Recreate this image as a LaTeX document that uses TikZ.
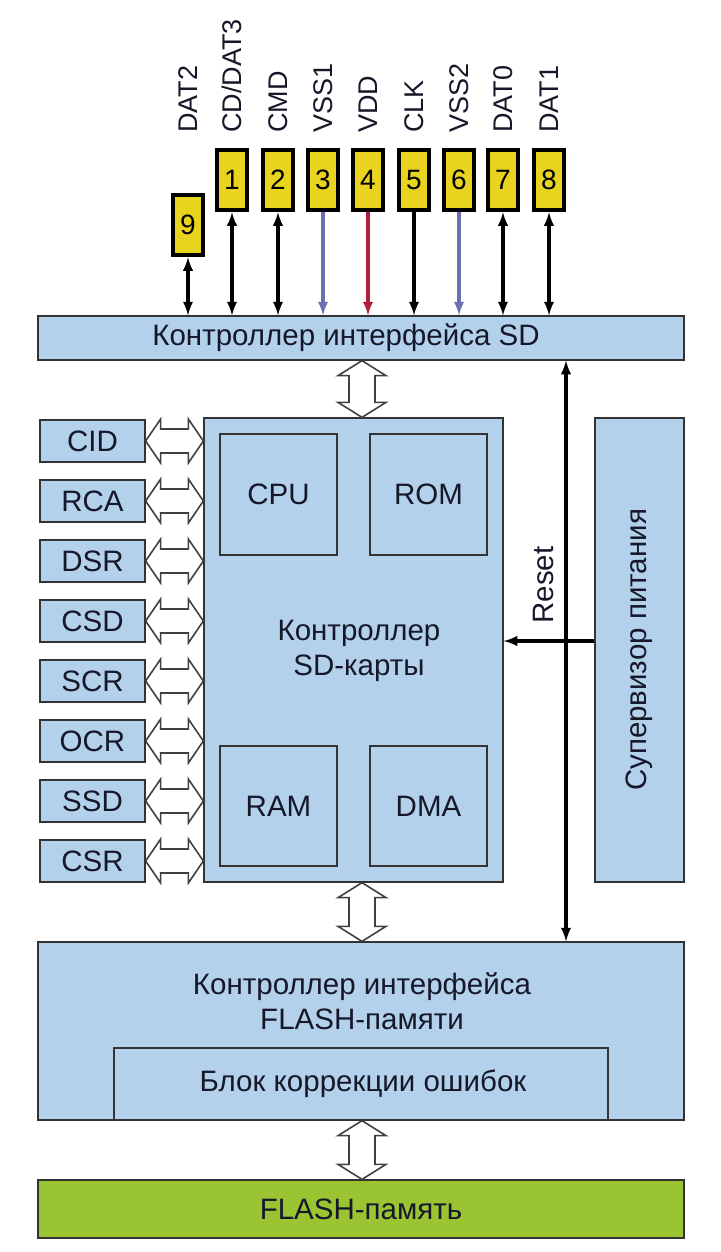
\documentclass[tikz,border=0pt]{standalone}
\usepackage{fontspec}
\setmainfont{Liberation Sans}
\usepackage{xcolor}
\usetikzlibrary{arrows, calc, positioning}
\definecolor{blkblue}{HTML}{B3D1EB}
\definecolor{flgreen}{HTML}{9AC431}
\definecolor{pinyel}{HTML}{E8D41E}
\definecolor{vssblue}{HTML}{6B70B2}
\definecolor{vddred}{HTML}{B01E3C}
\definecolor{inkdark}{HTML}{16182A}
\tikzset{
  % block style
  blk/.style={
    draw=black!80
    , fill=blkblue
    , line width=1.3pt
    , anchor=center
    , text centered
    , inner sep=0pt
  },
  % plain label text
  lbl/.style={
    font=\fontsize{29.5}{35}\selectfont
    , text=inkdark
    , align=center
    , inner sep=0pt
  },
  % pin name text
  pinlbl/.style={
    font=\fontsize{27}{27}\selectfont
    , text=inkdark
    , rotate=90
    , anchor=west
    , inner sep=0pt
  },
  % contact pad style
  pad/.style={
    draw
    , fill=pinyel
    , line width=4.5pt
    , minimum width=30pt
    , minimum height=60pt
    , inner sep=0pt
    , font=\fontsize{28}{28}\selectfont
  },
  % signal arrow style
  wire/.style={
    line width=3.6pt
    , >=latex
  },
  % hollow bus arrow
  bus/.style={
    draw=black!75
    , fill=white
    , line width=1.6pt
  },
}
% hollow two-way bus, vertical (top, bottom)
\newcommand{\busV}[2]{%
  \draw[bus] let \p1=(#1), \p2=(#2) in
    (\x1,\y1) -- (\x1+24pt,\y1-15pt) -- (\x1+13pt,\y1-15pt) -- (\x1+13pt,\y2+15pt)
    -- (\x1+24pt,\y2+15pt) -- (\x1,\y2) -- (\x1-24pt,\y2+15pt) -- (\x1-13pt,\y2+15pt)
    -- (\x1-13pt,\y1-15pt) -- (\x1-24pt,\y1-15pt) -- cycle;}
% hollow two-way bus, horizontal (left, right)
\newcommand{\busH}[2]{%
  \draw[bus] let \p1=(#1), \p2=(#2) in
    (\x1,\y1) -- (\x1+15pt,\y1+22pt) -- (\x1+15pt,\y1+12pt) -- (\x2-15pt,\y1+12pt)
    -- (\x2-15pt,\y1+22pt) -- (\x2,\y1) -- (\x2-15pt,\y1-22pt) -- (\x2-15pt,\y1-12pt)
    -- (\x1+15pt,\y1-12pt) -- (\x1+15pt,\y1-22pt) -- cycle;}

\begin{document}
\begin{tikzpicture}[x=1pt,y=-1pt]
      \useasboundingbox (0,0) rectangle (720,1252);

      % main blocks
      \node[blk, minimum width=646pt, minimum height=44pt] (sdif) at (361,338) {};
      \node[lbl] at (346,338) {Контроллер интерфейса SD};
      \node[blk, minimum width=299pt, minimum height=464pt] (ctrl) at (353.5,650) {};
      \node[lbl] (ctrltxt) at (359,651) {Контроллер\\SD-карты};
      \node[blk, minimum width=117pt, minimum height=121pt] (cpu) at (278.5,494.5) {};
      \node[lbl] at (cpu) {CPU};
      \node[blk, minimum width=117pt, minimum height=121pt] (rom) at (428.5,494.5) {};
      \node[lbl] at (rom) {ROM};
      \node[blk, minimum width=117pt, minimum height=120pt] (ram) at (278.5,806) {};
      \node[lbl] at (ram) {RAM};
      \node[blk, minimum width=117pt, minimum height=120pt] (dma) at (428.5,806) {};
      \node[lbl] at (dma) {DMA};
      \node[blk, minimum width=89pt, minimum height=464pt] (sup) at (639.5,650) {};
      \node[lbl, rotate=90] at (sup) {Супервизор питания};

      \node[blk, minimum width=646pt, minimum height=178pt] (flif) at (361,1031) {};
      \node[lbl] at (362,1001) {Контроллер интерфейса\\FLASH-памяти};
      \node[blk, minimum width=494pt, minimum height=72pt] (ecc) at (361,1084) {};
      \node[lbl] at (363,1084) {Блок коррекции ошибок};
      \node[blk, fill=flgreen, minimum width=646pt, minimum height=58pt] (flash) at (361,1209) {};
      \node[lbl] at (flash) {FLASH-память};

      % contact pads
      \node[pad] (p9) at (188,225) {9};
      \node[pinlbl] at (188,133) {DAT2};
      \foreach \n/\px/\lab in {1/232/{CD/DAT3}, 2/278/CMD, 3/323/VSS1, 4/368/VDD,
                              5/414/CLK, 6/459/VSS2, 7/503/DAT0, 8/549/DAT1} {
        \node[pad] (p\n) at (\px,180) {\n};
        \node[pinlbl] at (\px,133) {\lab};
      }
      \foreach \n in {9,1,2,7,8}
        \draw[wire,<->] (p\n.south) -- (p\n.south |- sdif.north);
      \draw[wire,->] (p5.south) -- (p5.south |- sdif.north);
      \draw[wire,->,vssblue] (p3.south) -- (p3.south |- sdif.north);
      \draw[wire,->,vssblue] (p6.south) -- (p6.south |- sdif.north);
      \draw[wire,->,vddred] (p4.south) -- (p4.south |- sdif.north);

      % registers
      \foreach \lab [count=\i] in {CID,RCA,DSR,CSD,SCR,OCR,SSD,CSR} {
        \node[blk, minimum width=105pt, minimum height=42pt] (reg\i) at (92.5,381+60*\i) {};
        \node[lbl] at (reg\i) {\lab};
        \busH{reg\i.east}{reg\i.east -| ctrl.west}
      }

      % buses
      \coordinate (bx) at (362,0);
      \busV{sdif.south -| bx}{ctrl.north -| bx}
      \busV{ctrl.south -| bx}{flif.north -| bx}
      \busV{flif.south -| bx}{flash.north -| bx}

      % reset line
      \coordinate (rx) at (566,641);
      \draw[wire,<->] (sdif.south -| rx) -- (flif.north -| rx);
      \draw[wire,->] (sup.west |- rx) -- (ctrl.east |- rx);
      \node[lbl, rotate=90] at (543,585) {Reset};
\end{tikzpicture}
\end{document}
